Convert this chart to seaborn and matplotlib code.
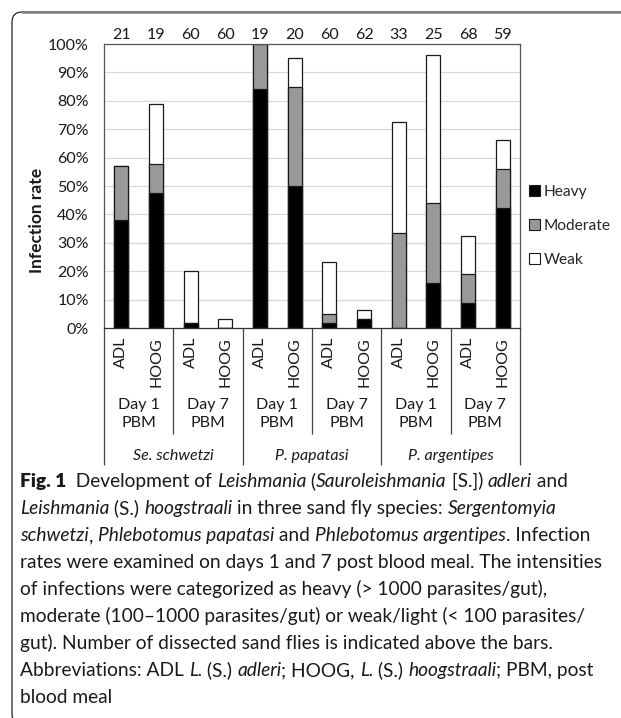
import matplotlib
matplotlib.use("Agg")
import numpy as np
import pandas as pd
import seaborn as sns
import matplotlib.pyplot as plt
from matplotlib.patches import Patch, FancyBboxPatch
from matplotlib.lines import Line2D
from matplotlib.transforms import blended_transform_factory, IdentityTransform

# ---------------- data ----------------
species = ["Se. schwetzi", "P. papatasi", "P. argentipes"]
days = ["Day 1\nPBM", "Day 7\nPBM"]
parasites = ["ADL", "HOOG"]
n_flies = [21, 19, 60, 60, 19, 20, 60, 62, 33, 25, 68, 59]
heavy = [38.1, 47.4, 1.7, 0.0, 84.2, 50.0, 1.7, 3.2, 0.0, 16.0, 8.8, 42.4]
moderate = [19.0, 10.5, 0.0, 0.0, 15.8, 35.0, 3.3, 0.0, 33.3, 28.0, 10.3, 13.6]
weak = [0.0, 21.1, 18.3, 3.3, 0.0, 10.0, 18.3, 3.2, 39.4, 52.0, 13.2, 10.2]
intensity_labels = ["Heavy", "Moderate", "Weak"]
yticks = [0, 10, 20, 30, 40, 50, 60, 70, 80, 90, 100]

# ---------------- style ----------------
sns.set_style("white")
plt.rcParams["font.family"] = ["Lato", "DejaVu Sans"]

W, H = 621, 718
fig = plt.figure(figsize=(W / 100, H / 100), dpi=100)
fig.patch.set_facecolor("white")

def fx(x):
    return x / W

def fy(y):
    return 1 - y / H

FS = 11.5
TXT = "#1a1a1a"

ax = fig.add_axes([fx(104), fy(328), 416 / W, 284 / H])

bar_ids = []
for s in species:
    for d in days:
        for p in parasites:
            bar_ids.append(f"{s}|{d}|{p}")

df = pd.DataFrame({
    "bar": bar_ids,
    "heavy": heavy,
    "moderate": moderate,
    "weak": weak,
    "n": n_flies,
})
df["cum_mod"] = df["heavy"] + df["moderate"]
df["cum_weak"] = df["cum_mod"] + df["weak"]

colors = ["#000000", "#999999", "#ffffff"]
edge = "#1a1a1a"
for col, c in [("cum_weak", colors[2]), ("cum_mod", colors[1]), ("heavy", colors[0])]:
    sns.barplot(data=df, x="bar", y=col, order=bar_ids, color=c, saturation=1,
                width=0.4, edgecolor=edge, linewidth=0.9, errorbar=None, ax=ax)

ax.set_xlim(-0.5, len(bar_ids) - 0.5)
ax.set_ylim(0, 100)
ax.set_yticks(yticks)
ax.set_yticklabels([f"{v}%" for v in yticks], fontsize=FS, color=TXT)
ax.tick_params(axis="y", length=0, pad=11)
ax.set_xticks([])
ax.set_xlabel("")
ax.set_ylabel("Infection rate", fontsize=12.5, fontweight="bold", color=TXT)
ax.yaxis.set_label_coords(-0.142, 0.377)
ax.grid(axis="y", color="#d9d9d9", linewidth=0.9)
ax.set_axisbelow(True)
for sp in ax.spines.values():
    sp.set_visible(True)
    sp.set_color("#555555")
    sp.set_linewidth(0.9)
ax.spines["bottom"].set_color("#333333")

tr = blended_transform_factory(ax.transData, ax.transAxes)
axh = 284.0

# counts above bars
for i, n in enumerate(df["n"]):
    ax.text(i, 1 + 9 / axh, str(n), transform=tr, ha="center", va="center",
            fontsize=FS, color=TXT, clip_on=False)

# multi-level category axis
for i, b in enumerate(bar_ids):
    p = b.split("|")[2]
    ax.text(i, -9 / axh, p, transform=tr, rotation=90, ha="center", va="top",
            fontsize=FS, color=TXT)
for j in range(len(species) * len(days)):
    ax.text(2 * j + 0.5, -(414 - 328) / axh, days[j % 2], transform=tr,
            ha="center", va="center", fontsize=FS, linespacing=1.45, color=TXT)
for k, s in enumerate(species):
    ax.text(4 * k + 1.5, -(456 - 328) / axh, s, transform=tr, ha="center",
            va="center", fontsize=FS, style="italic", color=TXT)

for j in range(len(species) * len(days) + 1):
    xb = 2 * j - 0.5
    depth = (465 - 328) / axh if j % 2 == 0 else (434 - 328) / axh
    ax.plot([xb, xb], [0, -depth], transform=tr, color="#444444", lw=0.9,
            clip_on=False, solid_capstyle="butt")

# legend
handles = [Patch(facecolor=c, edgecolor=edge, linewidth=0.8) for c in colors]
fig.legend(handles, intensity_labels, loc="center left",
           bbox_to_anchor=(fx(529), fy(226)), frameon=False, fontsize=11.2,
           handlelength=0.7, handleheight=0.7, handletextpad=0.25,
           labelspacing=1.3, borderpad=0, borderaxespad=0)

# frame around figure
box = FancyBboxPatch((12, H - 724), 660, 712,
                     boxstyle="round,pad=0,rounding_size=10",
                     transform=IdentityTransform(), fill=False,
                     edgecolor="#222222", linewidth=0.9)
fig.add_artist(box)
fig.add_artist(Line2D([22, W], [H - 12, H - 12], transform=IdentityTransform(),
                      color="#808080", lw=1.8))

# caption
cap_lines = [
    [("Fig. 1", "b"), ("  Development of ", "r"), ("Leishmania", "i"), (" (", "r"),
     ("Sauroleishmania", "i"), (" [S.]) ", "r"), ("adleri", "i"), (" and", "r")],
    [("Leishmania", "i"), (" (S.) ", "r"), ("hoogstraali", "i"),
     (" in three sand fly species: ", "r"), ("Sergentomyia", "i")],
    [("schwetzi", "i"), (", ", "r"), ("Phlebotomus papatasi", "i"), (" and ", "r"),
     ("Phlebotomus argentipes", "i"), (". Infection", "r")],
    [("rates were examined on days 1 and 7 post blood meal. The intensities", "r")],
    [("of infections were categorized as heavy (> 1000 parasites/gut),", "r")],
    [("moderate (100\u20131000 parasites/gut) or weak/light (< 100 parasites/", "r")],
    [("gut). Number of dissected sand flies is indicated above the bars.", "r")],
    [("Abbreviations: ADL ", "r"), ("L.", "i"), (" (S.) ", "r"), ("adleri", "i"),
     ("; HOOG, ", "r"), ("L.", "i"), (" (S.) ", "r"), ("hoogstraali", "i"),
     ("; PBM, post", "r")],
    [("blood meal", "r")],
]

renderer = fig.canvas.get_renderer()

def props(style, size):
    d = {"fontsize": size, "color": TXT}
    if style == "b":
        d["fontweight"] = "heavy"
    elif style == "i":
        d["style"] = "italic"
    return d

def run_width(txt, style, size):
    t1 = fig.text(0, 0, "x" + txt + "x", **props(style, size))
    w1 = t1.get_window_extent(renderer).width
    t1.remove()
    t0 = fig.text(0, 0, "xx", **props(style, size))
    w0 = t0.get_window_extent(renderer).width
    t0.remove()
    return w1 - w0

base = 12.0
wref = sum(run_width(t, s, base) for t, s in cap_lines[3])
size = base * 583.0 / wref

for li, line in enumerate(cap_lines):
    x = 20.0
    ybase = 487 + 27 * li
    for txt, st in line:
        fig.text(fx(x), fy(ybase), txt, ha="left", va="baseline", **props(st, size))
        x += run_width(txt, st, size)

fig.savefig("out.png", dpi=100, facecolor="white")
